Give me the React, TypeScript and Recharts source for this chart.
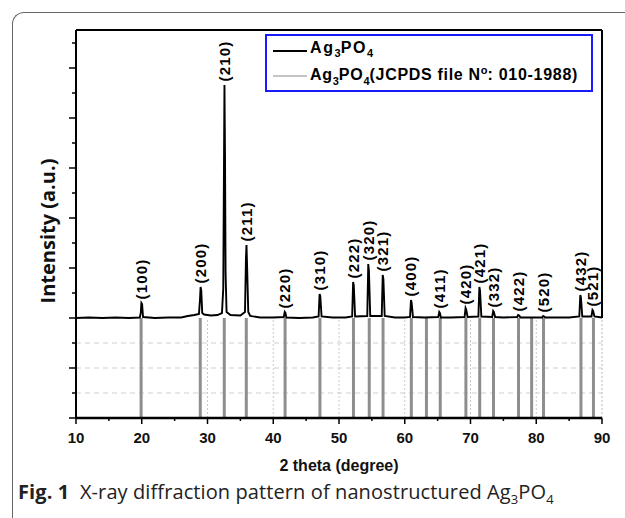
import React from 'react';
import {
  ComposedChart, Line, Scatter, XAxis, YAxis, ReferenceLine,
} from 'recharts';

// ── measured pattern: [2θ, intensity] (baseline = 0, lower panel runs to -2)
const patternPoints: [number, number][] = [
  [10, 0], [12, 0.01], [14, 0], [16, 0.01], [18, 0],
  [19.7, 0.01], [19.85, 0.1], [19.95, 0.3], [20.05, 0.28], [20.2, 0.02],
  [22, 0], [24, 0.01], [26, 0.01], [27, 0.04], [28, 0.06],
  [28.7, 0.08], [28.85, 0.35], [28.95, 0.62], [29.05, 0.55], [29.2, 0.1],
  [29.5, 0.07], [30.5, 0.05], [31.5, 0.06], [32.2, 0.1],
  [32.4, 0.6], [32.5, 2.9], [32.58, 4.66], [32.66, 3.3], [32.75, 0.9], [32.9, 0.12],
  [33.5, 0.06], [35.0, 0.05],
  [35.7, 0.12], [35.85, 1.2], [35.93, 1.46], [36.02, 1.05], [36.2, 0.12],
  [36.5, 0.04], [38, 0.01], [40, 0.01],
  [41.6, 0.02], [41.75, 0.12], [41.85, 0.1], [42.0, 0.01],
  [44, 0], [46, 0.01],
  [46.9, 0.03], [47.05, 0.48], [47.15, 0.44], [47.35, 0.03],
  [49, 0.01], [51, 0.01],
  [52.0, 0.03], [52.15, 0.72], [52.25, 0.65], [52.45, 0.03],
  [54.3, 0.04], [54.45, 1.08], [54.55, 0.95], [54.75, 0.04],
  [56.5, 0.04], [56.65, 0.86], [56.75, 0.78], [56.95, 0.04],
  [58.5, 0.01], [60.0, 0.01],
  [60.8, 0.02], [60.95, 0.36], [61.05, 0.3], [61.25, 0.02],
  [63, 0.01],
  [65.1, 0.02], [65.25, 0.12], [65.35, 0.1], [65.5, 0.01],
  [67, 0.01],
  [69.1, 0.02], [69.25, 0.2], [69.35, 0.17], [69.55, 0.02],
  [71.2, 0.03], [71.35, 0.62], [71.45, 0.55], [71.65, 0.03],
  [73.3, 0.02], [73.45, 0.14], [73.55, 0.12], [73.75, 0.02],
  [75, 0.01],
  [77.1, 0.02], [77.25, 0.06], [77.4, 0.05], [77.6, 0.01],
  [79, 0.01],
  [80.9, 0.01], [81.05, 0.04], [81.2, 0.03], [81.4, 0.01],
  [83, 0.01], [85, 0.01],
  [86.55, 0.03], [86.7, 0.46], [86.8, 0.4], [87.0, 0.03],
  [88.4, 0.03], [88.55, 0.16], [88.65, 0.14], [88.85, 0.03],
  [90, 0.01],
];

// JCPDS 010-1988 reference positions (2θ)
const jcpdsLines = [
  19.9, 28.9, 32.55, 35.9, 41.8, 47.1, 52.2, 54.6, 56.7, 61.0,
  63.3, 65.4, 69.3, 71.4, 73.5, 77.3, 79.3, 81.1, 86.8, 88.7,
];

// Miller indices and the peak each one sits on
const hklLabels = [
  '(100)', '(200)', '(210)', '(211)', '(220)', '(310)', '(222)', '(320)', '(321)',
  '(400)', '(411)', '(420)', '(421)', '(332)', '(422)', '(520)', '(432)', '(521)',
];
const hklPos = [
  19.95, 28.95, 32.58, 35.93, 41.75, 47.05, 52.15, 54.45, 56.65,
  60.95, 65.25, 69.25, 71.35, 73.45, 77.25, 81.05, 86.7, 88.55,
];
const hklPeak = [
  0.3, 0.62, 4.66, 1.46, 0.12, 0.48, 0.72, 1.08, 0.86,
  0.36, 0.12, 0.2, 0.62, 0.14, 0.06, 0.04, 0.46, 0.16,
];

const xMajor = [10, 20, 30, 40, 50, 60, 70, 80, 90];
const xMinor = [15, 25, 35, 45, 55, 65, 75, 85];
const yMajor = [-2, -1, 0, 1, 2, 3, 4, 5];
const yMinor = [-1.5, -0.5, 0.5, 1.5, 2.5, 3.5, 4.5, 5.5];
const lowerGridX = [20, 30, 40, 50, 60, 70, 80];
const lowerGridY = [-0.5, -1, -1.5];

const Y_MAX = 5.76;
const FONT = 'Arial, "Liberation Sans", sans-serif';

const patternData = patternPoints.map(([x, y]) => ({ x, y }));
const labelData = hklLabels.map((t, i) => ({ x: hklPos[i], y: hklPeak[i] + 0.07, t }));
const xTicks = [...xMajor, ...xMinor].sort((a, b) => a - b);
const yTicks = [...yMajor, ...yMinor].sort((a, b) => a - b);

const XTick = (props: any) => {
  const { x, y, payload } = props;
  const major = xMajor.includes(payload.value);
  return (
    <g>
      <line x1={x} x2={x} y1={y} y2={y + (major ? 6 : 3)} stroke="#000" strokeWidth={1.5} />
      {major && (
        <text x={x} y={y + 25} textAnchor="middle" fontFamily={FONT} fontWeight="bold"
          fontSize={15} fill="#111">{payload.value}</text>
      )}
    </g>
  );
};

const YTick = (props: any) => {
  const { x, y, payload } = props;
  const major = yMajor.includes(payload.value);
  return <line x1={x} x2={x - (major ? 7 : 4)} y1={y} y2={y} stroke="#000" strokeWidth={1.5} />;
};

const HklLabel = (props: any) => {
  const { cx, cy, payload } = props;
  return (
    <text x={cx} y={cy} dy="0.36em" transform={`rotate(-90 ${cx} ${cy})`}
      fontFamily={FONT} fontWeight="bold" fontSize={15} letterSpacing={1.2} fill="#000">
      {payload.t}
    </text>
  );
};

const legendText: React.CSSProperties = {
  fontFamily: FONT, fontWeight: 'bold', fontSize: 16, letterSpacing: 1.6, color: '#000',
  lineHeight: '20px', whiteSpace: 'nowrap',
};
const sub: React.CSSProperties = { fontSize: 11, letterSpacing: 0 };

const LegendBox = () => (
  <div style={{
    position: 'absolute', left: 265, top: 34, width: 328, height: 58,
    border: '2px solid #1a1aff', boxSizing: 'border-box', background: '#fff',
    padding: '2px 0 0 6px',
  }}>
    <div style={{ display: 'flex', alignItems: 'center', height: 25 }}>
      <svg width={34} height={6}><line x1={0} x2={34} y1={3} y2={3} stroke="#000" strokeWidth={2} /></svg>
      <span style={{ ...legendText, marginLeft: 3 }}>Ag<sub style={sub}>3</sub>PO<sub style={sub}>4</sub></span>
    </div>
    <div style={{ display: 'flex', alignItems: 'center', height: 25 }}>
      <svg width={34} height={6}><line x1={0} x2={34} y1={3} y2={3} stroke="#c4c4c4" strokeWidth={2} /></svg>
      <span style={{ ...legendText, marginLeft: 3, letterSpacing: 0.7 }}>
        Ag<sub style={sub}>3</sub>PO<sub style={sub}>4</sub>(JCPDS file N<sup style={sub}>o</sup>: 010-1988)
      </span>
    </div>
  </div>
);

export default function App() {
  return (
    <div style={{
      position: 'absolute', left: 0, top: 0, width: 625, height: 518,
      overflow: 'hidden', background: '#fff',
    }}>
      <div style={{
        position: 'absolute', left: 12, top: 12, width: 700, height: 600,
        borderTop: '1px solid #666', borderLeft: '1px solid #666', borderTopLeftRadius: 12,
      }} />
      <ComposedChart width={625} height={518} margin={{ top: 30, right: 23, bottom: 70, left: 16 }}
        style={{ position: 'absolute', left: 0, top: 0 }}>
        <XAxis type="number" dataKey="x" domain={[10, 90]} ticks={xTicks} interval={0}
          allowDataOverflow height={30} tickSize={0} tickMargin={0} tick={<XTick />}
          axisLine={{ stroke: '#000', strokeWidth: 2.5 }} />
        <YAxis type="number" domain={[-2, Y_MAX]} ticks={yTicks} interval={0}
          allowDataOverflow width={60} tickSize={0} tickMargin={0} tick={<YTick />}
          axisLine={{ stroke: '#000', strokeWidth: 2 }} />

        {/* lower panel grid */}
        {lowerGridY.map(v => (
          <ReferenceLine key={`gy${v}`} segment={[{ x: 10, y: v }, { x: 90, y: v }]}
            stroke="#cfcfcf" strokeDasharray="5 4" />
        ))}
        {lowerGridX.map(v => (
          <ReferenceLine key={`gx${v}`} segment={[{ x: v, y: -2 }, { x: v, y: 0 }]}
            stroke="#c8c8c8" strokeDasharray="2 2" />
        ))}
        <ReferenceLine segment={[{ x: 90, y: -2 }, { x: 90, y: 0 }]} stroke="#bbb" strokeDasharray="2 2" />

        {/* reference pattern sticks */}
        {jcpdsLines.map(v => (
          <ReferenceLine key={`j${v}`} segment={[{ x: v, y: -2 }, { x: v, y: 0 }]}
            stroke="#8e8e8e" strokeWidth={3} />
        ))}

        {/* upper frame */}
        <ReferenceLine y={Y_MAX} stroke="#000" strokeWidth={2} />
        <ReferenceLine segment={[{ x: 90, y: 0 }, { x: 90, y: Y_MAX }]} stroke="#000" strokeWidth={2} />

        <Line data={patternData} dataKey="y" type="linear" stroke="#000" strokeWidth={1.9}
          dot={false} isAnimationActive={false} />
        <Scatter data={labelData} dataKey="y" shape={<HklLabel />} isAnimationActive={false} />
      </ComposedChart>

      <LegendBox />

      {/* axis titles */}
      <div style={{
        position: 'absolute', left: 47, top: 231, transform: 'translate(-50%, -50%) rotate(-90deg)',
        fontFamily: '"Open Sans", sans-serif', fontWeight: 'bold', fontSize: 20, color: '#111',
        whiteSpace: 'nowrap',
      }}>Intensity (a.u.)</div>
      <div style={{
        position: 'absolute', left: 339, top: 466, transform: 'translate(-50%, -50%)',
        fontFamily: FONT, fontWeight: 'bold', fontSize: 16, color: '#111', whiteSpace: 'nowrap',
      }}>2 theta (degree)</div>

      {/* caption */}
      <div style={{
        position: 'absolute', left: 18, top: 478, fontFamily: '"Open Sans", sans-serif',
        fontSize: 20, color: '#222', whiteSpace: 'nowrap', letterSpacing: 0.1,
      }}>
        <b>Fig. 1</b>&nbsp;&nbsp;X-ray diffraction pattern of nanostructured Ag<sub style={{ fontSize: 13 }}>3</sub>PO<sub style={{ fontSize: 13 }}>4</sub>
      </div>
    </div>
  );
}
